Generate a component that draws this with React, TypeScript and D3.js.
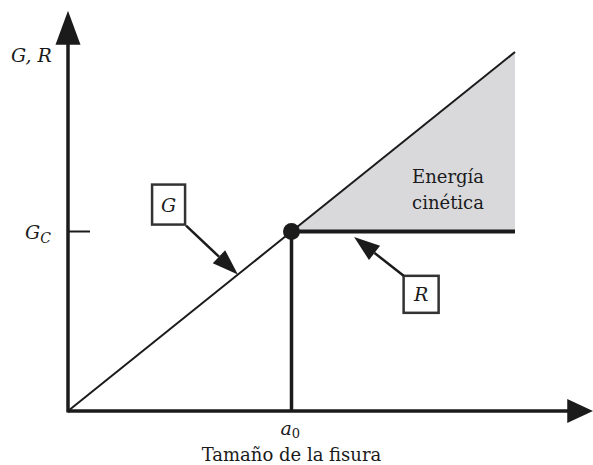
import React, { useRef, useEffect } from "react";
import * as d3 from "d3";

// crack size (a) and energy (G, R) in arbitrary units, a0 = 1, Gc = 1
const crackSize = [0, 1, 2];
const energyRelease = [0, 1, 2];
const resistance = [1, 1];
const a0 = 1;
const Gc = 1;
const axisMax = { a: 2.35, G: 2.23 };
const pointerLabels = ["G", "R"];
const pointerBoxes = [[0.45, 1.15], [1.58, 0.65]];
const pointerTips = [[0.76, 0.76], [1.28, 0.97]];

const App = () => {
  const svgRef = useRef<SVGSVGElement>(null);

  useEffect(() => {
    const svg = d3.select(svgRef.current);
    svg.selectAll("*").remove();

    const width = 593, height = 465;
    const ink = "#1b1b1b";
    const serif = "DejaVu Serif";
    const x = d3.scaleLinear().domain([0, 2]).range([68, 515]);
    const y = d3.scaleLinear().domain([0, 2]).range([411, 52]);

    svg.attr("width", width).attr("height", height);

    // shaded kinetic energy area
    const area = [[a0, Gc], [crackSize[2], energyRelease[2]], [crackSize[2], resistance[1]]];
    svg.append("polygon")
      .attr("points", area.map(d => `${x(d[0])},${y(d[1])}`).join(" "))
      .attr("fill", "#d9d9dc");

    // axes
    svg.append("line").attr("x1", x(0)).attr("x2", x(axisMax.a) - 20)
      .attr("y1", y(0)).attr("y2", y(0)).attr("stroke", ink).attr("stroke-width", 3.5);
    svg.append("line").attr("x1", x(0)).attr("x2", x(0))
      .attr("y1", y(0) + 1.5).attr("y2", y(axisMax.G) + 20).attr("stroke", ink).attr("stroke-width", 3.5);
    svg.append("polygon")
      .attr("points", `${x(axisMax.a)},${y(0)} ${x(axisMax.a) - 26},${y(0) - 12} ${x(axisMax.a) - 26},${y(0) + 12}`)
      .attr("fill", ink);
    svg.append("polygon")
      .attr("points", `${x(0)},${y(axisMax.G)} ${x(0) - 12.5},${y(axisMax.G) + 34} ${x(0) + 12.5},${y(axisMax.G) + 34}`)
      .attr("fill", ink);

    // Gc tick
    svg.append("line").attr("x1", x(0)).attr("x2", x(0) + 22)
      .attr("y1", y(Gc)).attr("y2", y(Gc)).attr("stroke", ink).attr("stroke-width", 2);

    // G line
    const line = d3.line<number>().x((d, i) => x(crackSize[i])).y(d => y(d));
    svg.append("path").datum(energyRelease).attr("d", line)
      .attr("fill", "none").attr("stroke", ink).attr("stroke-width", 2);

    // R line
    svg.append("line").attr("x1", x(a0)).attr("x2", x(crackSize[2]))
      .attr("y1", y(resistance[0])).attr("y2", y(resistance[1]))
      .attr("stroke", ink).attr("stroke-width", 4);

    // a0 drop line
    svg.append("line").attr("x1", x(a0)).attr("x2", x(a0))
      .attr("y1", y(Gc)).attr("y2", y(0)).attr("stroke", ink).attr("stroke-width", 3.5);

    svg.append("circle").attr("cx", x(a0)).attr("cy", y(Gc)).attr("r", 8.5).attr("fill", ink);

    // pointer boxes
    pointerLabels.forEach((lab, i) => {
      const bx = x(pointerBoxes[i][0]), by = y(pointerBoxes[i][1]);
      const w = i === 0 ? 33 : 35, h = i === 0 ? 40 : 37;
      svg.append("rect").attr("x", bx - w / 2).attr("y", by - h / 2).attr("width", w).attr("height", h)
        .attr("fill", "white").attr("stroke", "#333").attr("stroke-width", 2.5);
      svg.append("text").attr("x", bx).attr("y", by + 7).attr("text-anchor", "middle")
        .attr("font-family", serif).attr("font-style", "italic").attr("font-size", 19)
        .attr("fill", ink).text(lab);

      const sx = i === 0 ? bx + w / 2 + 1 : bx - w / 2;
      const sy = i === 0 ? by + h / 2 + 1 : by - h / 2;
      const tx = x(pointerTips[i][0]), ty = y(pointerTips[i][1]);
      const ang = Math.atan2(ty - sy, tx - sx);
      const len = 26, hw = 9;
      const bxp = tx - len * Math.cos(ang), byp = ty - len * Math.sin(ang);
      svg.append("line").attr("x1", sx).attr("y1", sy).attr("x2", bxp).attr("y2", byp)
        .attr("stroke", ink).attr("stroke-width", 2.5);
      svg.append("polygon")
        .attr("points", [
          [tx, ty],
          [bxp + hw * Math.sin(ang), byp - hw * Math.cos(ang)],
          [bxp - hw * Math.sin(ang), byp + hw * Math.cos(ang)],
        ].map(p => p.join(",")).join(" "))
        .attr("fill", ink);
    });

    // axis labels
    svg.append("text").attr("x", 11).attr("y", 62)
      .attr("font-family", serif).attr("font-style", "italic").attr("font-size", 19).attr("fill", ink)
      .text("G, R");

    const gc = svg.append("text").attr("x", 25).attr("y", 239)
      .attr("font-family", serif).attr("font-style", "italic").attr("font-size", 19).attr("fill", ink);
    gc.append("tspan").text("G");
    gc.append("tspan").attr("font-size", 14).attr("dy", 4).text("C");

    const a = svg.append("text").attr("x", x(a0) - 11).attr("y", 435)
      .attr("font-family", serif).attr("font-style", "italic").attr("font-size", 19).attr("fill", ink);
    a.append("tspan").text("a");
    a.append("tspan").attr("font-style", "normal").attr("font-size", 13).attr("dy", 3).text("0");

    svg.append("text").attr("x", x(a0)).attr("y", 461).attr("text-anchor", "middle")
      .attr("font-family", serif).attr("font-size", 18).attr("fill", ink).text("Tamaño de la fisura");

    svg.append("text").attr("x", 448).attr("y", 183).attr("text-anchor", "middle")
      .attr("font-family", serif).attr("font-size", 18).attr("fill", ink).text("Energía");
    svg.append("text").attr("x", 448).attr("y", 209).attr("text-anchor", "middle")
      .attr("font-family", serif).attr("font-size", 18).attr("fill", ink).text("cinética");
  }, []);

  return (
    <svg ref={svgRef} style={{ position: "absolute", left: 0, top: 0 }}></svg>
  );
};

export default App;
